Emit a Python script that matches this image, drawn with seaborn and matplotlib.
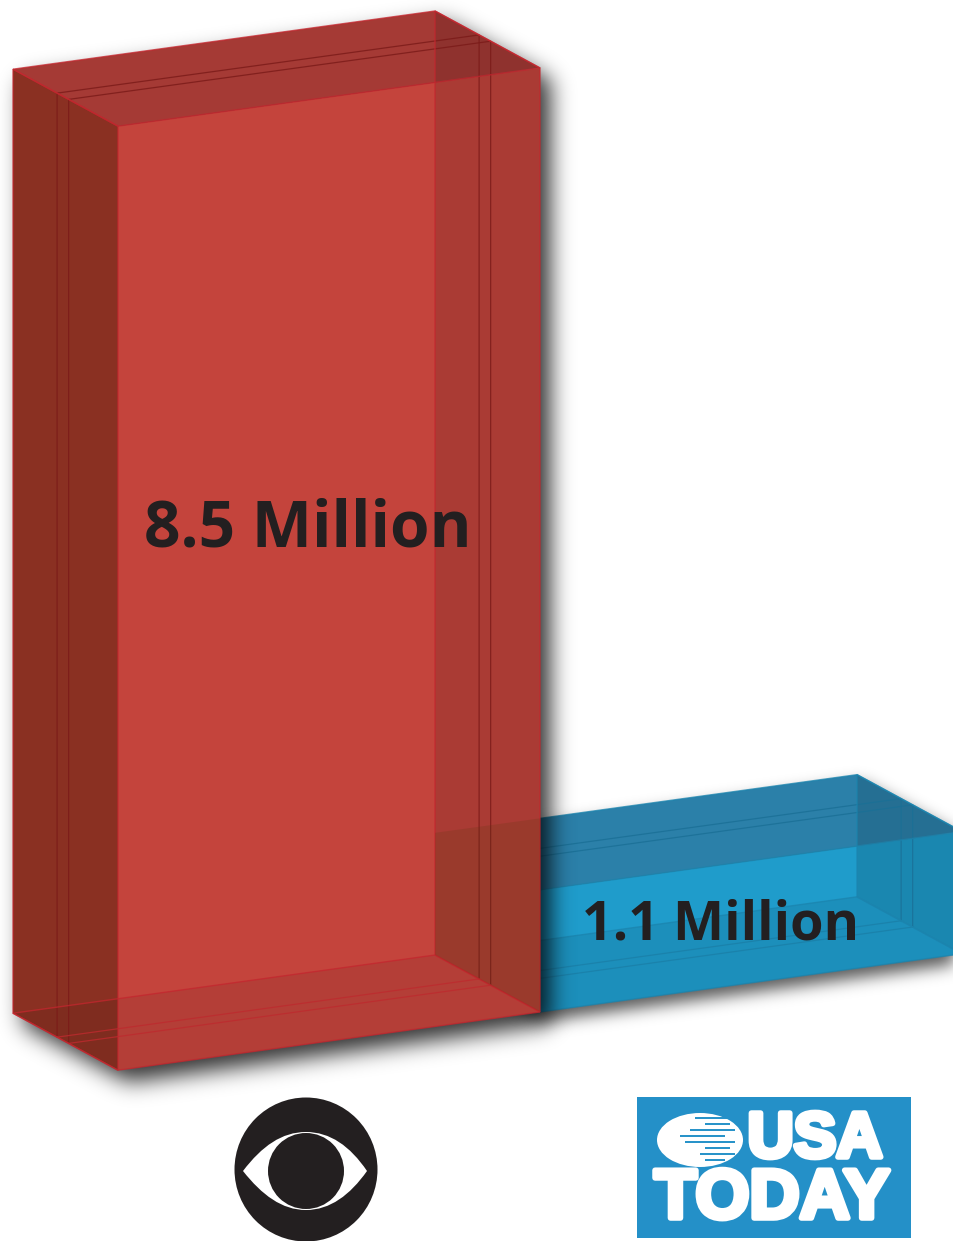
import numpy as np
import pandas as pd
import seaborn as sns
from matplotlib import pyplot as plt
from matplotlib.patches import Polygon, Circle, Ellipse, Rectangle, PathPatch
from matplotlib.path import Path
from matplotlib.transforms import Affine2D
import matplotlib.patheffects as pe

names = ["CBS", "USA Today"]
values = [8.5, 1.1]
labels = ["8.5 Million", "1.1 Million"]
front_cols = ["#C4443C", "#1F9CCB"]
top_cols = ["#A53A35", "#2B80A9"]
side_cols = ["#8A3022", "#2089B5"]
edge_cols = ["#C4262E", "#1B84AE"]
ring_dark = ["#7A1A18", "#1A6F96"]
ring_light = ["#BE2A2E", "#1A7FA8"]

# skew and depth of the fake 3d box, in data units
k = 0.524
dx = -0.2488
dy = 0.513

sns.set_theme(style="white")
plt.rcParams['font.family'] = ['Open Sans', 'DejaVu Sans']

fig = plt.figure(figsize=(9.54, 12.41), dpi=100)
ax = fig.add_axes([0, 0, 1, 1])

df = pd.DataFrame(dict(name=names, value=values))
sns.barplot(data=df, x="name", y="value", hue="name", palette=front_cols,
            saturation=1, width=1, legend=False, ax=ax, linewidth=0)
xlim = (-0.7796, 1.481)
ylim = (-2.062, 9.112)
ax.set_xlim(*xlim)
ax.set_ylim(*ylim)
ax.axis("off")

skew = Affine2D.from_values(1, k, 0, 1, 0, -k * 0.5)


def pt(x, y, d=0):
    return (x + d * dx, y + k * (x - 0.5) + d * dy)


def box_faces(x0, x1, h):
    top = [pt(x0, h), pt(x1, h), pt(x1, h, 1), pt(x0, h, 1)]
    left = [pt(x0, h), pt(x0, h, 1), pt(x0, 0, 1), pt(x0, 0)]
    right = [pt(x1, h), pt(x1, h, 1), pt(x1, 0, 1), pt(x1, 0)]
    bottom = [pt(x0, 0), pt(x1, 0), pt(x1, 0, 1), pt(x0, 0, 1)]
    return top, left, right, bottom


def blur(a, sigma):
    r = int(3 * sigma)
    g = np.exp(-0.5 * (np.arange(-r, r + 1) / sigma) ** 2)
    g = g / g.sum()
    a = np.apply_along_axis(lambda v: np.convolve(v, g, mode="same"), 0, a)
    a = np.apply_along_axis(lambda v: np.convolve(v, g, mode="same"), 1, a)
    return a


def shadow(outline, z, off, sigma, strength):
    w, h = fig.canvas.get_width_height()
    disp = ax.transData.transform(outline) + np.array(off)
    xx, yy = np.meshgrid(np.arange(w) + 0.5, np.arange(h) + 0.5)
    m = Path(disp).contains_points(np.c_[xx.ravel(), yy.ravel()]).reshape(h, w).astype(float)
    m = blur(m, sigma)
    img = np.zeros((h, w, 4))
    img[..., 3] = m * strength
    ax.imshow(img, extent=(*xlim, *ylim), origin="lower", aspect="auto", zorder=z,
              interpolation="bilinear")


def ring(x0, x1, h, d, i, z):
    a = [pt(x0, 0, d), pt(x0, h, d), pt(x1, h, d), pt(x1, 0, d)]
    b = [pt(x1, 0, d), pt(x0, 0, d)]
    for seg, col in [(a, ring_dark[i]), (b, ring_light[i])]:
        seg = np.array(seg)
        ax.plot(seg[:, 0], seg[:, 1], color=col, lw=0.9, alpha=0.8, zorder=z)


bars = list(ax.patches)
# blue goes below red
base_z = [20, 5]
for i, p in enumerate(bars):
    x0 = p.get_x()
    x1 = x0 + p.get_width()
    h = p.get_height()
    z = base_z[i]
    top, left, right, bottom = box_faces(x0, x1, h)
    outline = [pt(x0, h, 1), pt(x1, h, 1), pt(x1, h), pt(x1, 0), pt(x0, 0), pt(x0, 0, 1)]
    if i == 1:
        shadow(outline, z - 1, (4, -9), 8, 0.65)
    else:
        shadow(outline, z - 1, (10, -12), 11, 0.8)
    p.set_transform(skew + ax.transData)
    p.set_zorder(z)
    ax.add_patch(Polygon(top, fc=top_cols[i], ec="none", zorder=z + 0.1))
    ax.add_patch(Polygon(left, fc=side_cols[i], ec="none", zorder=z + 0.1))
    ax.add_patch(Polygon(right, fc="black", alpha=0.13, ec="none", zorder=z + 0.2))
    ax.add_patch(Polygon(bottom, fc="black", alpha=0.08, ec="none", zorder=z + 0.2))
    for d in [0.47, 0.58]:
        ring(x0, x1, h, d, i, z + 0.3)
    for face in [top, left, right, bottom]:
        ax.add_patch(Polygon(face, fc="none", ec=edge_cols[i], lw=1.0, alpha=0.75, zorder=z + 0.4))
ax.set_xlim(*xlim)
ax.set_ylim(*ylim)

# blue box seen through the red one
x0 = bars[1].get_x()
h = values[1]
ax.add_patch(Polygon([pt(x0, h, 1), pt(x0 - dx, h, 1), pt(x0, 0), pt(x0, 0, 1)],
                     fc="#5A3A10", ec="none", alpha=0.2, zorder=20.5))

fig.text(308 / 954, 1 - 530 / 1241, labels[0], fontsize=46, fontweight="bold", color="#231F20",
         ha="center", va="center", zorder=40)
fig.text(721 / 954, 1 - 926 / 1241, labels[1], fontsize=39, fontweight="bold", color="#231F20",
         ha="center", va="center", zorder=40)

# logos, pixel coords
lg = fig.add_axes([0, 0, 1, 1], facecolor="none")
lg.set_xlim(0, 954)
lg.set_ylim(1241, 0)
lg.axis("off")

lg.add_patch(Ellipse((306, 1169.5), 143, 144, fc="#231F20", ec="none"))
eye = Path([(243, 1171), (262, 1146), (282, 1132), (306, 1132), (330, 1132), (350, 1146), (367, 1171),
            (350, 1195), (330, 1210), (306, 1210), (282, 1210), (262, 1195), (243, 1171)],
           [Path.MOVETO] + [Path.CURVE4] * 12)
lg.add_patch(PathPatch(eye, fc="white", ec="none"))
lg.add_patch(Circle((306, 1171), 38, fc="#231F20", ec="none"))

lg.add_patch(Rectangle((637, 1097), 274, 141, fc="#2490C8", ec="none"))
lg.add_patch(Ellipse((700, 1140), 86, 54, fc="white", ec="none"))
for yy, x_a, x_b in [(1118, 695, 735), (1124, 705, 730), (1130, 690, 735), (1136, 680, 725),
                     (1142, 685, 735), (1148, 705, 730), (1154, 700, 735), (1160, 705, 725)]:
    lg.plot([x_a, x_b], [yy, yy], color="#2490C8", lw=1.4, solid_capstyle="butt")
stroke = [pe.withStroke(linewidth=4, foreground="white")]
lg.text(815, 1140, "USA", fontsize=46, fontweight="bold", family="Liberation Sans", color="white",
        ha="center", va="center", path_effects=stroke)
lg.text(772, 1200, "TODAY", fontsize=50, fontweight="bold", family="Liberation Sans", color="white",
        ha="center", va="center", path_effects=stroke)

fig.savefig("out.png", dpi=100)
